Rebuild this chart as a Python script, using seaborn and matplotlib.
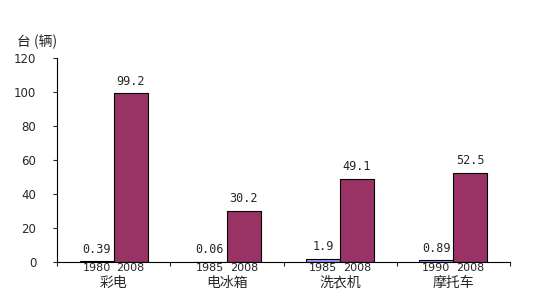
import matplotlib
matplotlib.use("Agg")
import matplotlib.pyplot as plt
import seaborn as sns
import pandas as pd
import numpy as np

categories = ["彩电", "电冰箱", "洗衣机", "摩托车"]
early_years = ["1980", "1985", "1985", "1990"]
late_years = ["2008", "2008", "2008", "2008"]
early_values = [0.39, 0.06, 1.9, 0.89]
late_values = [99.2, 30.2, 49.1, 52.5]
y_ticks = [0, 20, 40, 60, 80, 100, 120]
unit_label = "台 (辆)"

sns.set_style("white")
plt.rcParams['font.family'] = ['Noto Sans CJK SC', 'DejaVu Sans']

df = pd.DataFrame({
    "category": categories * 2,
    "period": ["early"] * 4 + ["late"] * 4,
    "value": early_values + late_values,
})

fig = plt.figure(figsize=(5.35, 3.06), dpi=100)
ax = fig.add_axes([57/535, 44/306, (510-57)/535, (262-58)/306])

sns.barplot(data=df, x="category", y="value", hue="period", order=categories,
            hue_order=["early", "late"], palette=["#9999FF", "#993366"],
            width=0.6, edgecolor="black", linewidth=0.8, saturation=1,
            legend=False, ax=ax)

for cont in ax.containers:
    ax.bar_label(cont, fmt="%g", padding=4, fontsize=8.5, family="DejaVu Sans Mono")

ax.set_xlim(-0.5, 3.5)
ax.set_ylim(0, 120)
ax.set_yticks(y_ticks)
ax.set_yticklabels([str(t) for t in y_ticks], family="DejaVu Sans", fontsize=8.5)
ax.tick_params(axis="y", length=3, width=0.8, pad=12, direction="out", left=True)

ax.set_xticks(range(len(categories)))
ax.set_xticklabels(categories, fontsize=10)
ax.tick_params(axis="x", which="major", length=0, pad=10)
pos = []
labs = []
for i in range(len(categories)):
    pos += [i - 0.15, i + 0.15]
    labs += [early_years[i], late_years[i]]
ax.set_xticks(pos, minor=True)
ax.set_xticklabels(labs, minor=True, fontsize=8, family="DejaVu Sans")
ax.tick_params(axis="x", which="minor", length=0, pad=1)

sec = ax.secondary_xaxis("bottom")
sec.set_xticks(np.arange(-0.5, len(categories), 1.0))
sec.set_xticklabels([])
sec.tick_params(length=3, width=0.8, direction="out")
sec.spines["bottom"].set_visible(False)

ax.set_xlabel("")
ax.set_ylabel("")
for s in ["top", "right"]:
    ax.spines[s].set_visible(False)
for s in ["left", "bottom"]:
    ax.spines[s].set_color("black")
    ax.spines[s].set_linewidth(0.8)

fig.text(17/535, 1 - 42/306, unit_label, fontsize=10, va="center", ha="left")

fig.savefig("out.png", dpi=100)
